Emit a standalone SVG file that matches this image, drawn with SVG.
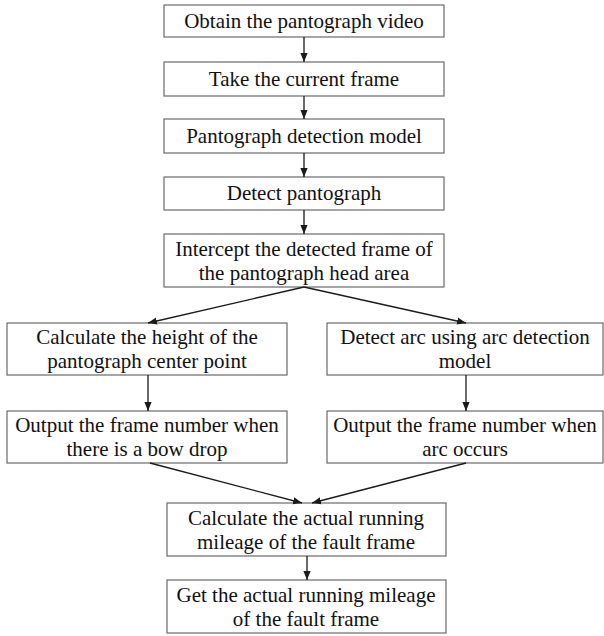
<svg xmlns="http://www.w3.org/2000/svg" width="604" height="636" viewBox="0 0 604 636">
<defs>
<marker id="ah" viewBox="0 0 10 10" refX="10" refY="5" markerWidth="9" markerHeight="9" markerUnits="userSpaceOnUse" orient="auto">
<path d="M0,1 L10,5 L0,9 Z" fill="#1a1a1a"/>
</marker>
<style>
.box{fill:#fff;stroke:#6a6a6a;stroke-width:1.2}
.t{font-family:"Liberation Serif","Times New Roman",serif;font-size:21px;fill:#111;text-anchor:middle}
.c{stroke:#1a1a1a;stroke-width:1.3;fill:none;marker-end:url(#ah)}
</style>
</defs>
<rect width="604" height="636" fill="#fff"/>
<g id="n1"><rect class="box" x="164" y="5" width="280" height="32"/><text class="t" x="304" y="28">Obtain the pantograph video</text></g>
<g id="n2"><rect class="box" x="164" y="62" width="280" height="34"/><text class="t" x="304" y="86">Take the current frame</text></g>
<g id="n3"><rect class="box" x="164" y="119" width="280" height="34"/><text class="t" x="304" y="143">Pantograph detection model</text></g>
<g id="n4"><rect class="box" x="164" y="177" width="280" height="33"/><text class="t" x="304" y="200">Detect pantograph</text></g>
<g id="n5"><rect class="box" x="164" y="234" width="280" height="53"/><text class="t" x="304" y="256">Intercept the detected frame of</text><text class="t" x="304" y="280">the pantograph head area</text></g>
<g id="n6"><rect class="box" x="7" y="323" width="280" height="52"/><text class="t" x="147" y="344">Calculate the height of the</text><text class="t" x="147" y="368">pantograph center point</text></g>
<g id="n7"><rect class="box" x="327" y="323" width="276" height="52"/><text class="t" x="465" y="344">Detect arc using arc detection</text><text class="t" x="465" y="368">model</text></g>
<g id="n8"><rect class="box" x="7" y="411" width="280" height="52"/><text class="t" x="147" y="432">Output the frame number when</text><text class="t" x="147" y="456">there is a bow drop</text></g>
<g id="n9"><rect class="box" x="327" y="411" width="276" height="52"/><text class="t" x="465" y="432">Output the frame number when</text><text class="t" x="465" y="456">arc occurs</text></g>
<g id="n10"><rect class="box" x="167" y="503" width="279" height="53"/><text class="t" x="306" y="525">Calculate the actual running</text><text class="t" x="306" y="549">mileage of the fault frame</text></g>
<g id="n11"><rect class="box" x="167" y="580" width="279" height="53"/><text class="t" x="306" y="602">Get the actual running mileage</text><text class="t" x="306" y="626">of the fault frame</text></g>
<g id="connectors">
<line class="c" x1="304" y1="37" x2="304" y2="62"/>
<line class="c" x1="304" y1="96" x2="304" y2="119"/>
<line class="c" x1="304" y1="153" x2="304" y2="177"/>
<line class="c" x1="304" y1="210" x2="304" y2="234"/>
<line class="c" x1="304" y1="287" x2="148" y2="323"/>
<line class="c" x1="304" y1="287" x2="466" y2="323"/>
<line class="c" x1="148" y1="375" x2="148" y2="411"/>
<line class="c" x1="466" y1="375" x2="466" y2="411"/>
<line class="c" x1="150" y1="463" x2="302" y2="503"/>
<line class="c" x1="466" y1="463" x2="312" y2="503"/>
<line class="c" x1="307" y1="556" x2="307" y2="580"/>
</g>
</svg>
